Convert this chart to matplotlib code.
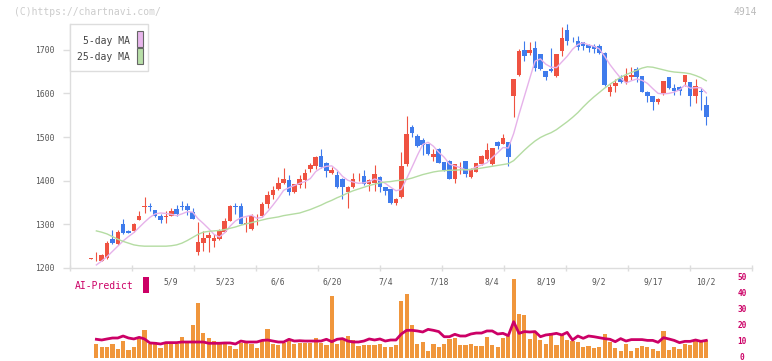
import matplotlib
matplotlib.use("Agg")
import matplotlib.pyplot as plt
import numpy as np
from matplotlib.patches import Rectangle

nan = np.nan

# daily candles, oldest first (index 0 .. 115)
opens = [1221, 1222, 1217, 1224, 1266, 1255, 1301, 1285, 1284, 1310,
         1339, 1343, 1333, 1319, 1317, 1320, 1335, 1343, 1341, 1328,
         1237, 1258, 1268, 1263, 1266, 1283, 1308, 1342, 1342, 1300,
         1289, 1309, 1318, 1346, 1367, 1380, 1395, 1402, 1375, 1390,
         1402, 1427, 1434, 1457, 1441, 1418, 1413, 1405, 1375, 1386,
         1406, 1411, 1392, 1395, 1408, 1385, 1380, 1348, 1363, 1438,
         1522, 1502, 1493, 1484, 1455, 1473, 1442, 1444, 1404, 1440,
         1444, 1409, 1421, 1438, 1449, 1438, 1489, 1484, 1488, 1594,
         1642, 1699, 1692, 1703, 1690, 1651, 1657, 1640, 1698, 1745,
         1721, 1721, 1717, 1712, 1709, 1709, 1693, 1604, 1618, 1635,
         1625, 1638, 1655, 1640, 1604, 1594, 1581, 1599, 1637, 1613,
         1615, 1625, 1625, 1594, 1605, 1573]
highs = [1223, 1236, 1232, 1261, 1287, 1287, 1312, 1287, 1302, 1331,
         1363, 1348, 1334, 1324, 1331, 1337, 1344, 1353, 1348, 1337,
         1306, 1285, 1283, 1279, 1289, 1314, 1344, 1348, 1348, 1316,
         1323, 1324, 1351, 1377, 1388, 1409, 1428, 1413, 1393, 1413,
         1427, 1441, 1456, 1473, 1443, 1432, 1423, 1406, 1388, 1417,
         1418, 1425, 1405, 1436, 1410, 1386, 1381, 1360, 1466, 1549,
         1528, 1506, 1497, 1485, 1472, 1474, 1443, 1447, 1439, 1443,
         1445, 1428, 1441, 1458, 1487, 1475, 1491, 1506, 1489, 1633,
         1701, 1721, 1717, 1721, 1691, 1652, 1703, 1691, 1751, 1759,
         1730, 1731, 1718, 1713, 1714, 1713, 1694, 1621, 1634, 1642,
         1659, 1660, 1661, 1641, 1605, 1595, 1590, 1629, 1638, 1621,
         1616, 1643, 1626, 1632, 1612, 1594]
lows = [1221, 1217, 1215, 1221, 1255, 1253, 1278, 1280, 1282, 1309,
        1325, 1330, 1316, 1304, 1302, 1319, 1318, 1333, 1321, 1312,
        1230, 1240, 1237, 1249, 1264, 1282, 1307, 1324, 1300, 1283,
        1287, 1299, 1317, 1338, 1357, 1379, 1393, 1367, 1371, 1383,
        1383, 1421, 1426, 1428, 1409, 1416, 1384, 1357, 1338, 1383,
        1400, 1390, 1376, 1377, 1374, 1368, 1347, 1345, 1361, 1434,
        1499, 1478, 1459, 1460, 1446, 1440, 1423, 1403, 1395, 1415,
        1409, 1407, 1419, 1437, 1448, 1437, 1473, 1483, 1434, 1547,
        1641, 1675, 1687, 1652, 1653, 1631, 1648, 1638, 1686, 1711,
        1718, 1699, 1699, 1694, 1692, 1690, 1618, 1593, 1604, 1624,
        1622, 1631, 1627, 1603, 1581, 1562, 1576, 1597, 1611, 1596,
        1596, 1618, 1571, 1579, 1562, 1527]
closes = [1222, 1223, 1230, 1258, 1258, 1282, 1281, 1281, 1301, 1320,
          1341, 1339, 1318, 1310, 1318, 1331, 1323, 1339, 1333, 1312,
          1260, 1268, 1276, 1268, 1285, 1308, 1342, 1339, 1301, 1302,
          1319, 1310, 1347, 1367, 1379, 1395, 1404, 1373, 1392, 1404,
          1418, 1436, 1455, 1432, 1423, 1424, 1386, 1386, 1385, 1404,
          1407, 1392, 1402, 1415, 1385, 1377, 1348, 1358, 1434, 1507,
          1510, 1480, 1482, 1461, 1461, 1441, 1425, 1404, 1438, 1441,
          1415, 1425, 1440, 1457, 1470, 1474, 1480, 1497, 1455, 1632,
          1696, 1686, 1699, 1659, 1655, 1637, 1652, 1690, 1726, 1719,
          1719, 1706, 1709, 1703, 1701, 1692, 1619, 1615, 1623, 1625,
          1640, 1642, 1637, 1604, 1593, 1581, 1587, 1628, 1612, 1606,
          1606, 1642, 1594, 1617, 1604, 1547]

ma5 = [nan, 1207, 1216, 1226, 1238, 1250, 1262, 1272, 1281, 1293,
       1305, 1316, 1324, 1326, 1325, 1323, 1320, 1324, 1329, 1328,
       1313, 1302, 1290, 1277, 1271, 1281, 1296, 1308, 1315, 1318,
       1321, 1314, 1316, 1329, 1344, 1360, 1378, 1384, 1389, 1394,
       1398, 1405, 1421, 1429, 1433, 1434, 1424, 1410, 1401, 1397,
       1394, 1395, 1398, 1404, 1400, 1394, 1385, 1377, 1380, 1405,
       1431, 1458, 1483, 1488, 1479, 1465, 1454, 1438, 1434, 1430,
       1425, 1425, 1432, 1436, 1441, 1453, 1464, 1476, 1475, 1508,
       1552, 1593, 1634, 1674, 1679, 1667, 1660, 1659, 1672, 1685,
       1701, 1712, 1716, 1711, 1708, 1702, 1685, 1666, 1650, 1635,
       1624, 1629, 1633, 1630, 1623, 1611, 1600, 1599, 1600, 1603,
       1608, 1619, 1612, 1613, 1613, 1601]
ma25 = [nan, 1285, 1282, 1278, 1272, 1266, 1261, 1257, 1253, 1251,
        1250, 1250, 1250, 1250, 1250, 1251, 1253, 1257, 1263, 1270,
        1277, 1282, 1284, 1285, 1286, 1288, 1291, 1294, 1298, 1301,
        1304, 1307, 1310, 1313, 1315, 1317, 1320, 1322, 1324, 1326,
        1330, 1334, 1339, 1344, 1350, 1355, 1361, 1366, 1372, 1377,
        1381, 1385, 1389, 1392, 1395, 1397, 1398, 1400, 1401, 1403,
        1406, 1410, 1414, 1417, 1420, 1422, 1423, 1424, 1424, 1425,
        1425, 1426, 1427, 1429, 1431, 1433, 1435, 1437, 1439, 1446,
        1458, 1470, 1481, 1491, 1499, 1505, 1510, 1517, 1526, 1535,
        1545, 1556, 1569, 1581, 1592, 1602, 1612, 1621, 1629, 1637,
        1643, 1648, 1653, 1658, 1661, 1660, 1657, 1654, 1651, 1649,
        1648, 1647, 1645, 1641, 1636, 1629]

# lower panel (right scale 0-50)
volume = [nan, 8.75, 7.1, 7.1, 8.75, 5.6, 10.6, 5.0, 7.1, 11.9,
          17.5, 8.5, 9.8, 6.5, 9.2, 9.2, 8.5, 13.1, 9.2, 20.6,
          34.4, 15.6, 12.5, 10.6, 9.2, 9.2, 7.7, 5.6, 9.2, 10.6,
          8.9, 6.5, 10.6, 18.1, 8.75, 8.1, 9.4, 10.6, 8.75, 9.4,
          9.4, 9.4, 12.5, 9.4, 8.1, 38.75, 8.75, 11.25, 13.75, 11.25,
          7.5, 8.1, 8.1, 8.1, 8.75, 7.1, 7.1, 8.1, 35.6, 40.0,
          20.6, 8.75, 10.0, 4.4, 8.75, 7.1, 8.75, 11.9, 12.5, 8.1,
          8.1, 8.75, 7.5, 7.5, 13.1, 8.1, 6.9, 12.6, 13.75, 49.4,
          27.5, 26.9, 11.9, 15.6, 11.25, 8.75, 15.6, 8.1, 14.4, 11.25,
          10.6, 10.0, 6.9, 7.5, 6.25, 6.9, 15.0, 10.0, 6.25, 4.4,
          8.75, 4.4, 6.25, 7.5, 6.9, 5.6, 4.4, 16.9, 5.0, 6.9,
          5.6, 8.75, 8.1, 10.6, 10.0, 11.25]
ai_predict = [nan, 11.7, 11.25, 11.9, 12.5, 12.5, 13.75, 12.5, 11.9, 12.9,
              11.9, 9.4, 9.2, 8.75, 9.6, 9.6, 9.6, 10.0, 10.0, 10.0,
              10.0, 10.0, 9.2, 9.2, 9.2, 9.4, 9.4, 8.75, 10.6, 10.0,
              10.0, 10.0, 11.0, 11.25, 10.6, 10.0, 10.0, 11.7, 10.6, 10.8,
              10.6, 10.6, 10.6, 10.6, 11.7, 10.2, 11.7, 12.1, 10.6, 10.0,
              10.0, 10.6, 11.9, 11.25, 11.9, 10.6, 11.25, 11.25, 15.0, 17.3,
              17.3, 16.9, 16.25, 17.9, 17.3, 16.5, 13.3, 13.3, 14.8, 13.75,
              13.75, 15.0, 15.6, 15.6, 16.9, 16.9, 15.0, 15.4, 14.0, 22.7,
              15.4, 16.5, 16.25, 16.5, 13.3, 14.4, 14.8, 15.4, 14.4, 16.0,
              11.25, 13.75, 12.3, 13.75, 13.3, 12.7, 12.1, 11.7, 10.2, 12.1,
              10.6, 11.5, 11.5, 11.5, 11.0, 11.0, 9.8, 12.7, 11.9, 11.0,
              9.6, 10.4, 10.4, 11.25, 10.4, 11.0]

date_labels = ["5/9", "5/23", "6/6", "6/20", "7/4", "7/18", "8/4", "8/19", "9/2", "9/17", "10/2"]
date_idx = [15, 25, 35, 45, 55, 65, 75, 85, 95, 105, 115]
price_ticks = [1200, 1300, 1400, 1500, 1600, 1700]
right_ticks = [0, 10, 20, 30, 40, 50]

UP = "#ef5241"
DOWN = "#3f7bec"
MAGENTA = "#cc0066"
MONO = "DejaVu Sans Mono"

W, H = 772, 361
fig = plt.figure(figsize=(W / 100, H / 100), dpi=100)
fig.patch.set_facecolor("white")


def fx(x):
    return x / W


def fy(y):
    return 1 - y / H


x = np.arange(len(closes))
o = np.array(opens, float)
c = np.array(closes, float)
up = c >= o
colors = np.where(up, UP, DOWN)
xlim = (-3.93, 123.55)

# price panel
ax = fig.add_axes([fx(70), fy(268), fx(682), (268 - 24) / H])
ax.vlines(x, lows, highs, colors=colors, lw=0.8, zorder=2)
body_lo = np.minimum(o, c)
body_h = np.maximum(np.abs(c - o), 1.2)
ax.bar(x, body_h, bottom=body_lo, width=0.85, color=colors, lw=0, zorder=3)
ax.plot(x, ma5, color="#e6b2ea", lw=1.0, zorder=4)
ax.plot(x, ma25, color="#b4dca2", lw=1.0, zorder=4)

ax.set_xlim(*xlim)
ax.set_ylim(1200, 1759)
ax.set_yticks(price_ticks)
ax.set_xticks(np.linspace(xlim[0], xlim[1], 12))
ax.set_xticklabels([])
for s in ("top", "right"):
    ax.spines[s].set_visible(False)
for s in ("left", "bottom"):
    ax.spines[s].set_color("#dddddd")
    ax.spines[s].set_linewidth(1.0)
ax.tick_params(axis="y", direction="out", length=5, width=1, color="#dddddd",
               labelcolor="#555555", labelsize=5.8, pad=6)
ax.tick_params(axis="x", direction="inout", length=5, width=1, color="#dddddd")
for lab in ax.get_yticklabels():
    lab.set_family(MONO)

for i, lab in zip(date_idx, date_labels):
    ax.text(i, -0.056, lab, transform=ax.get_xaxis_transform(), ha="center", va="center",
            fontsize=5.8, color="#555555", family=MONO)

# legend box
fig.add_artist(Rectangle((fx(70), fy(71)), fx(78), (71 - 24) / H, transform=fig.transFigure,
                         facecolor="white", edgecolor="#dddddd", lw=1.0, zorder=5))
fig.text(fx(130), fy(41), "5-day MA", ha="right", va="center", fontsize=7, color="#444444",
         family=MONO, zorder=6)
fig.text(fx(130), fy(57), "25-day MA", ha="right", va="center", fontsize=7, color="#444444",
         family=MONO, zorder=6)
fig.add_artist(Rectangle((fx(137), fy(46.5)), fx(6), 15 / H, transform=fig.transFigure,
                         facecolor="#e8b6ec", edgecolor="#666666", lw=0.8, zorder=6))
fig.add_artist(Rectangle((fx(137), fy(63.5)), fx(6), 15 / H, transform=fig.transFigure,
                         facecolor="#b8dfa8", edgecolor="#666666", lw=0.8, zorder=6))

# lower panel
ax2 = fig.add_axes([fx(70), fy(358), fx(682), 80 / H])
ax2.bar(x, volume, width=0.78, color="#f0963c", lw=0, zorder=2)
ax2.plot(x, ai_predict, color=MAGENTA, lw=2.0, zorder=3)
ax2.set_xlim(*xlim)
ax2.set_ylim(0, 50)
ax2.axis("off")
for t in right_ticks:
    ax2.text(fx(761) * W / W, t, str(t), transform=ax2.get_yaxis_transform(), ha="center",
             va="center", fontsize=5.6, color=MAGENTA, family=MONO, fontweight="bold")

fig.text(fx(75), fy(286), "AI-Predict", ha="left", va="center", fontsize=7, color=MAGENTA,
         family=MONO)
fig.add_artist(Rectangle((fx(142.5), fy(293)), fx(6), 16 / H, transform=fig.transFigure,
                         facecolor=MAGENTA, edgecolor="none"))

fig.text(fx(14), fy(12), "(C)https://chartnavi.com/", ha="left", va="center", fontsize=7,
         color="#cccccc", family=MONO)
fig.text(fx(757), fy(12), "4914", ha="right", va="center", fontsize=7, color="#bbbbbb",
         family=MONO)

fig.savefig("out.png", dpi=100, facecolor="white")
